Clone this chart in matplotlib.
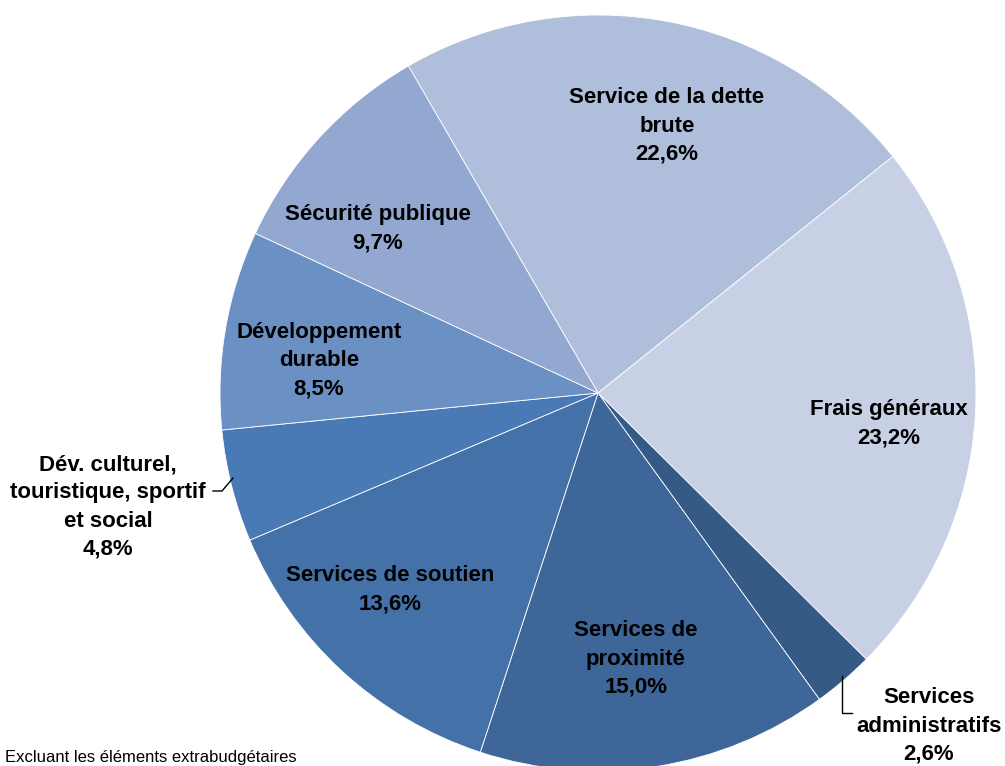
import numpy as np
import matplotlib.pyplot as plt

plt.rcParams['font.family'] = ['Liberation Sans', 'DejaVu Sans']

labels = ["Service de la dette\nbrute", "Frais généraux", "Services\nadministratifs",
          "Services de\nproximité", "Services de soutien",
          "Dév. culturel,\ntouristique, sportif\net social",
          "Développement\ndurable", "Sécurité publique"]
values = [22.6, 23.2, 2.6, 15.0, 13.6, 4.8, 8.5, 9.7]
colors = ["#AFBFDB", "#C8D0E5", "#355A85", "#3E6699", "#4472A8",
          "#4A7AB5", "#6A90C4", "#93A8D0"]

# label centres in pixels of the 1005x766 image
label_px = [(667, 126), (889, 424), (929, 726), (636, 659), (390, 590),
            (108, 507), (319, 361), (378, 229)]

cx, cy, r = 598, 393, 378
W, H = 1005, 766

fig = plt.figure(figsize=(W / 100, H / 100), dpi=100)
ax = fig.add_axes([(cx - r) / W, (H - cy - r) / H, 2 * r / W, 2 * r / H])
ax.pie(values, colors=colors, startangle=120.1, counterclock=False,
       wedgeprops=dict(edgecolor='white', linewidth=0.6))
ax.set_xlim(-1, 1)
ax.set_ylim(-1, 1)
ax.set_aspect('equal')
ax.axis('off')

def to_data(px, py):
    return (px - cx) / r, (cy - py) / r

for lab, v, (px, py) in zip(labels, values, label_px):
    x, y = to_data(px, py)
    txt = lab + "\n" + ("%.1f" % v).replace(".", ",") + "%"
    ax.text(x, y, txt, ha='center', va='center', fontsize=16,
            fontweight='bold', linespacing=1.45, clip_on=False)

# leader lines
pts = [to_data(*p) for p in [(213, 491), (222, 491), (233, 478)]]
ax.plot([p[0] for p in pts], [p[1] for p in pts], color='black', lw=1, clip_on=False)
pts = [to_data(*p) for p in [(842, 676), (842, 713), (852, 713)]]
ax.plot([p[0] for p in pts], [p[1] for p in pts], color='black', lw=1, clip_on=False)

fig.text(5 / W, 1 / H, "Excluant les éléments extrabudgétaires",
         fontsize=12, va='bottom', ha='left')

fig.savefig("out.png", dpi=100)
